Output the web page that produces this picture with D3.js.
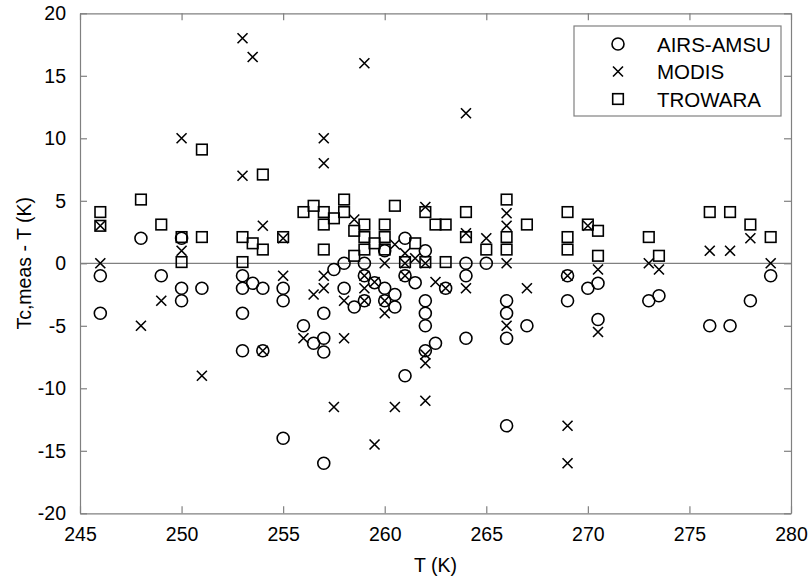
<!DOCTYPE html>
<html>
<head>
<meta charset="utf-8">
<script src="https://cdn.jsdelivr.net/npm/d3@7/dist/d3.min.js"></script>
<style>
  html, body { margin: 0; padding: 0; background: #fff; }
  svg { display: block; }
  text { font-family: "Liberation Sans", Arial, Helvetica, sans-serif; fill: #000; }
</style>
</head>
<body>
<svg id="chart" width="809" height="578"></svg>
<script>
// AIRS-AMSU retrievals: temperature T (K) and difference Tc,meas - T (K)
const airsT = [246,246,248,249,250,250,250,251,253,253,253,253,253.5,254,254,
  255,255,255,256,256.5,257,257,257,257,257.5,258,258,258.5,259,259,259,259.5,
  260,260,260,260.5,260.5,261,261,261,261.5,262,262,262,262,262,262.5,263,
  264,264,264,265,266,266,266,266,267,269,269,270,270.5,270.5,273,273.5,
  276,277,278,279];
const airsV = [-1,-4,2,-1,2,-2,-3,-2,-1,-2,-4,-7,-1.6,-2,-7,
  -2,-3,-14,-5,-6.4,-4,-6,-7.1,-16,-0.5,0,-2,-3.5,0,-1,-3,-1.55,
  1,-2,-3,-2.5,-3.5,2,-1,-9,-1.55,1,-3,-4,-5,-7,-6.4,-2,
  0,-1,-6,0,-3,-4,-6,-13,-5,-1,-3,-2,-1.6,-4.5,-3,-2.6,
  -5,-5,-3,-1];

// MODIS retrievals
const modisT = [246,246,248,249,250,250,251,253,253,253.5,254,254,255,255,
  256,256.5,257,257,257,257,257.5,258,258,258.5,259,259,259,259,259.5,259.5,
  260,260,260,260.5,260.5,261,261,261,261.5,262,262,262,262,262,262.5,263,
  264,264,264,265,266,266,266,266,267,269,269,269,270,270.5,270.5,273,273.5,
  276,277,278,279];
const modisV = [3,0,-5,-3,10,1,-9,18,7,16.5,3,-7,2,-1,
  -6,-2.5,10,8,-1,-2,-11.5,-3,-6,3.5,16,-1,-2,-3,-14.5,-1.5,
  0,-3,-4,1.5,-11.5,0.8,0,-1,0.4,4.5,0,-7.3,-8,-11,-1.5,-2,
  12,2.4,-2,2,4,3,0,-5,-2,-1,-13,-16,3,-0.5,-5.5,0,-0.5,
  1,1,2,0];

// TROWARA retrievals
const trowT = [246,246,248,249,250,250,251,251,253,253,253.5,254,254,255,
  256,256.5,257,257,257,257.5,258,258,258.5,258.5,259,259,259,259.5,
  260,260,260,260.5,261,261.5,262,262,262.5,263,263,264,264,265,
  266,266,266,267,269,269,269,270,270.5,270.5,273,273.5,276,277,278,279];
const trowV = [4.1,3,5.1,3.1,2.1,0.1,9.1,2.1,2.1,0.1,1.6,7.1,1.1,2.1,
  4.1,4.6,4.1,3.1,1.1,3.6,5.1,4.1,2.6,0.6,3.1,2.1,1.1,1.6,
  3.1,2.1,1.1,4.6,0.1,1.6,4.1,0.1,3.1,3.1,0.1,4.1,2.1,1.1,
  5.1,2.1,1.1,3.1,4.1,2.1,1.1,3.1,2.6,0.6,2.1,0.6,4.1,4.1,3.1,2.1];

const seriesNames = ["AIRS-AMSU", "MODIS", "TROWARA"];
const xTicks = [245,250,255,260,265,270,275,280];
const yTicks = [-20,-15,-10,-5,0,5,10,15,20];

const svg = d3.select("#chart");
const plot = {left: 80, right: 791, top: 13.3, bottom: 513.3};
const x = d3.scaleLinear().domain([245, 280]).range([plot.left, plot.right]);
const y = d3.scaleLinear().domain([-20, 20]).range([plot.bottom, plot.top]);

const axisColor = "#808080";
const fontSize = 19.5;
const plain = d => String(d);   // ASCII hyphen for negative labels

// zero reference line
svg.append("line")
  .attr("x1", x(245)).attr("x2", x(280))
  .attr("y1", y(0)).attr("y2", y(0))
  .attr("stroke", axisColor).attr("stroke-width", 1.2);

// axes with inward ticks on all four sides
const tickLen = 7;
const axB = svg.append("g").attr("transform", `translate(0,${plot.bottom})`)
  .call(d3.axisBottom(x).tickValues(xTicks).tickFormat(plain).tickSizeInner(-tickLen).tickSizeOuter(0).tickPadding(14));
const axT = svg.append("g").attr("transform", `translate(0,${plot.top})`)
  .call(d3.axisTop(x).tickValues(xTicks).tickSizeInner(-tickLen).tickSizeOuter(0).tickFormat(""));
const axL = svg.append("g").attr("transform", `translate(${plot.left},0)`)
  .call(d3.axisLeft(y).tickValues(yTicks).tickFormat(plain).tickSizeInner(-tickLen).tickSizeOuter(0).tickPadding(14));
const axR = svg.append("g").attr("transform", `translate(${plot.right},0)`)
  .call(d3.axisRight(y).tickValues(yTicks).tickSizeInner(-tickLen).tickSizeOuter(0).tickFormat(""));

[axB, axT, axL, axR].forEach(g => {
  g.select(".domain").attr("stroke", axisColor).attr("stroke-width", 1.2);
  g.selectAll(".tick line").attr("stroke", axisColor).attr("stroke-width", 1.2);
  g.selectAll(".tick text")
    .style("font-family", '"Liberation Sans", Arial, sans-serif')
    .style("font-size", fontSize + "px").attr("fill", "#000");
});

// axis titles
svg.append("text")
  .attr("x", (plot.left + plot.right) / 2).attr("y", 572)
  .attr("text-anchor", "middle").style("font-size", fontSize + "px")
  .text("T (K)");
svg.append("text")
  .attr("transform", `translate(31,${(plot.top + plot.bottom) / 2}) rotate(-90)`)
  .attr("text-anchor", "middle").style("font-size", fontSize + "px")
  .text("Tc,meas - T (K)");

// marker drawers
const stroke = "#000", sw = 1.6;
function drawCircle(g, cx, cy) {
  g.append("circle").attr("cx", cx).attr("cy", cy).attr("r", 6)
    .attr("fill", "none").attr("stroke", stroke).attr("stroke-width", sw);
}
function drawCross(g, cx, cy) {
  const s = 5;
  g.append("path")
    .attr("d", `M${cx - s},${cy - s}L${cx + s},${cy + s}M${cx - s},${cy + s}L${cx + s},${cy - s}`)
    .attr("stroke", stroke).attr("stroke-width", sw).attr("fill", "none");
}
function drawSquare(g, cx, cy) {
  const s = 5.3;
  g.append("rect").attr("x", cx - s).attr("y", cy - s).attr("width", 2 * s).attr("height", 2 * s)
    .attr("fill", "none").attr("stroke", stroke).attr("stroke-width", sw);
}

const marks = svg.append("g");
airsT.forEach((t, i) => drawCircle(marks, x(t), y(airsV[i])));
modisT.forEach((t, i) => drawCross(marks, x(t), y(modisV[i])));
trowT.forEach((t, i) => drawSquare(marks, x(t), y(trowV[i])));

// legend
const leg = svg.append("g");
leg.append("rect").attr("x", 574).attr("y", 26).attr("width", 207).attr("height", 90)
  .attr("fill", "#fff").attr("stroke", axisColor).attr("stroke-width", 1.2);
const drawers = [drawCircle, drawCross, drawSquare];
seriesNames.forEach((name, i) => {
  const cy = 44 + i * 27.5;
  drawers[i](leg, 618, cy);
  leg.append("text").attr("x", 657).attr("y", cy + 7.5)
    .style("font-size", "20.5px").text(name);
});
</script>
</body>
</html>
